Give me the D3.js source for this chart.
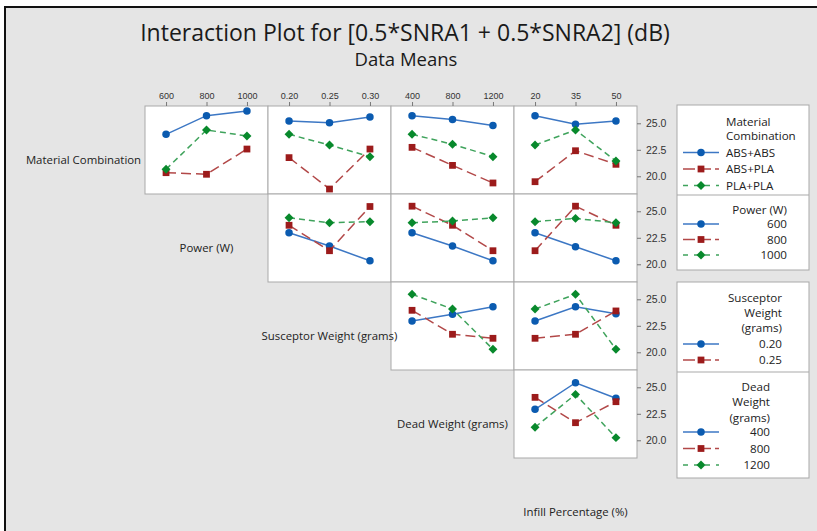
<!DOCTYPE html>
<html>
<head>
<meta charset="utf-8">
<script src="https://cdn.jsdelivr.net/npm/d3@7/dist/d3.min.js"></script>
<style>
  html, body { margin: 0; padding: 0; background: #ffffff; }
  svg { display: block; font-family: "Open Sans", "Noto Sans", sans-serif; }
</style>
</head>
<body>
<svg id="chart" width="817" height="531"></svg>
<script>
// ---- factors ----
const factorNames = ["Material Combination", "Power (W)", "Susceptor Weight (grams)", "Dead Weight (grams)", "Infill Percentage (%)"];
const materialLevels  = ["ABS+ABS", "ABS+PLA", "PLA+PLA"];
const powerLevels     = ["600", "800", "1000"];
const susceptorLevels = ["0.20", "0.25", "0.30"];
const deadLevels      = ["400", "800", "1200"];
const infillLevels    = ["20", "35", "50"];
const factorLevels = [materialLevels, powerLevels, susceptorLevels, deadLevels, infillLevels];

// ---- mean S/N ratio (dB) for each trace level (rows) across x levels (columns) ----
const materialByPower     = [[23.96, 25.72, 26.16], [20.34, 20.19, 22.57], [20.66, 24.37, 23.80]];
const materialBySusceptor = [[25.21, 25.05, 25.59], [21.76, 18.80, 22.57], [23.96, 22.95, 21.85]];
const materialByDead      = [[25.72, 25.35, 24.78], [22.73, 21.03, 19.37], [23.96, 23.02, 21.85]];
const materialByInfill    = [[25.72, 24.90, 25.21], [19.49, 22.41, 21.13], [22.95, 24.37, 21.44]];
const powerBySusceptor    = [[22.98, 21.72, 20.33], [23.68, 21.28, 25.45], [24.39, 23.92, 24.02]];
const powerByDead         = [[22.98, 21.72, 20.33], [25.48, 23.68, 21.28], [23.92, 24.08, 24.39]];
const powerByInfill       = [[22.98, 21.66, 20.33], [21.28, 25.48, 23.68], [24.02, 24.33, 23.92]];
const susceptorByDead     = [[22.95, 23.58, 24.30], [23.96, 21.70, 21.32], [25.47, 24.08, 20.28]];
const susceptorByInfill   = [[22.95, 24.30, 23.64], [21.32, 21.70, 23.90], [24.08, 25.47, 20.28]];
const deadByInfill        = [[22.92, 25.43, 23.96], [24.05, 21.66, 23.64], [21.23, 24.33, 20.25]];

// panel grid: row = trace factor, column = x factor (index into factorNames)
const panels = [
  { row: 0, xf: 1, values: materialByPower },
  { row: 0, xf: 2, values: materialBySusceptor },
  { row: 0, xf: 3, values: materialByDead },
  { row: 0, xf: 4, values: materialByInfill },
  { row: 1, xf: 2, values: powerBySusceptor },
  { row: 1, xf: 3, values: powerByDead },
  { row: 1, xf: 4, values: powerByInfill },
  { row: 2, xf: 3, values: susceptorByDead },
  { row: 2, xf: 4, values: susceptorByInfill },
  { row: 3, xf: 4, values: deadByInfill }
];

const yTicks = [20.0, 22.5, 25.0];
const yDomain = [18.33, 26.63];

// legends: which trace levels are listed in each legend block
const legendBlocks = [
  { title: ["Material", "Combination"], labels: materialLevels, anchor: "start" },
  { title: ["Power (W)"], labels: powerLevels, anchor: "end" },
  { title: ["Susceptor", "Weight", "(grams)"], labels: susceptorLevels.slice(0, 2), anchor: "end" },
  { title: ["Dead", "Weight", "(grams)"], labels: deadLevels, anchor: "end" }
];

// ---- styling ----
const markerColors = ["#0b5bb0", "#9c1b1b", "#08892c"];
const lineColors   = ["#3c77c4", "#b24848", "#3fa35c"];
const dashes       = [null, "10,5", "6,4"];
const symbols      = [d3.symbolCircle, d3.symbolSquare, d3.symbolSquare];
const symbolSizes  = [44, 46, 40];
const symbolRotate = [0, 0, 45];

const W = 817, H = 531;
const gridLeft = 145, gridTop = 106, cellW = 123, cellH = 88;

const svg = d3.select("#chart");

// page background and frame
svg.append("rect").attr("width", W).attr("height", H).attr("fill", "#ffffff");
svg.append("rect").attr("x", 5).attr("y", 7).attr("width", W - 5).attr("height", H - 7).attr("fill", "#e5e5e5");
svg.append("path").attr("d", `M5,${H} V7 H${W}`).attr("fill", "none").attr("stroke", "#111").attr("stroke-width", 2);

// titles
svg.append("text").attr("x", 405).attr("y", 41).attr("text-anchor", "middle")
  .attr("font-size", 23).attr("fill", "#1a1a1a")
  .text("Interaction Plot for [0.5*SNRA1 + 0.5*SNRA2] (dB)");
svg.append("text").attr("x", 406).attr("y", 66).attr("text-anchor", "middle")
  .attr("font-size", 18.5).attr("fill", "#1a1a1a")
  .text("Data Means");

const yScale = d3.scaleLinear().domain(yDomain).range([cellH, 0]);
const xScales = factorLevels.map((lv, f) =>
  f === 0 ? null : d3.scalePoint().domain(lv).range([0, cellW]).padding(0.52));

// panels
panels.forEach(p => {
  const col = p.xf - 1;
  const g = svg.append("g")
    .attr("transform", `translate(${gridLeft + col * cellW},${gridTop + p.row * cellH})`);
  g.append("rect").attr("width", cellW).attr("height", cellH)
    .attr("fill", "#ffffff").attr("stroke", "#a9a9a9").attr("stroke-width", 1);

  const xs = xScales[p.xf];
  const levels = factorLevels[p.xf];
  const line = d3.line().x((d, i) => xs(levels[i])).y(d => yScale(d));

  p.values.forEach((vals, s) => {
    g.append("path").datum(vals)
      .attr("d", line)
      .attr("fill", "none")
      .attr("stroke", lineColors[s])
      .attr("stroke-width", 1.5)
      .attr("stroke-dasharray", dashes[s]);
    g.selectAll(null).data(vals).join("path")
      .attr("transform", (d, i) => `translate(${xs(levels[i])},${yScale(d)}) rotate(${symbolRotate[s]})`)
      .attr("d", d3.symbol().type(symbols[s]).size(symbolSizes[s]))
      .attr("fill", markerColors[s]);
  });

  // top axis on first row
  if (p.row === 0) {
    const ax = g.append("g").call(d3.axisTop(xs).tickSize(4).tickSizeOuter(0).tickPadding(3));
    ax.select(".domain").remove();
    ax.selectAll("line").attr("stroke", "#777");
    ax.selectAll("text").attr("font-size", 9).attr("fill", "#333").attr("font-family", null);
  }
  // right axis on last column
  if (col === 3) {
    const ay = g.append("g").attr("transform", `translate(${cellW},0)`)
      .call(d3.axisRight(yScale).tickValues(yTicks).tickFormat(d3.format(".1f")).tickSize(4).tickPadding(5));
    ay.select(".domain").remove();
    ay.selectAll("line").attr("stroke", "#777");
    ay.selectAll("text").attr("font-size", 10.5).attr("fill", "#333").attr("font-family", null);
  }
});

// factor labels on the diagonal (drawn over the panels)
factorNames.forEach((name, i) => {
  svg.append("text")
    .attr("x", gridLeft + (i - 1) * cellW + cellW / 2)
    .attr("y", gridTop + i * cellH + cellH / 2 + 14)
    .attr("text-anchor", "middle")
    .attr("font-size", 11.4)
    .attr("fill", "#222")
    .text(name);
});

// legend boxes
const legendX = 677, legendW = 132;
const legendLayout = [
  { top: 105, bottom: 195, titleY: 121.5, titleStep: 14.5, entryY: 152.5, entryStep: 16.5, textX: 726 },
  { top: 195, bottom: 270, titleY: 210, titleStep: 14.5, entryY: 224, entryStep: 15.5, textX: 787 },
  { top: 282, bottom: 372, titleY: 298, titleStep: 15, entryY: 344, entryStep: 16, textX: 782 },
  { top: 372, bottom: 478, titleY: 386.5, titleStep: 15.5, entryY: 432, entryStep: 16.5, textX: 770 }
];
[[0, 1], [2, 3]].forEach(pair => {
  const top = legendLayout[pair[0]].top, bottom = legendLayout[pair[1]].bottom;
  svg.append("rect").attr("x", legendX).attr("y", top).attr("width", legendW).attr("height", bottom - top)
    .attr("fill", "#fff").attr("stroke", "#a9a9a9");
  svg.append("line").attr("x1", legendX).attr("x2", legendX + legendW)
    .attr("y1", legendLayout[pair[1]].top).attr("y2", legendLayout[pair[1]].top).attr("stroke", "#a9a9a9");
});
legendBlocks.forEach((b, k) => {
  const L = legendLayout[k];
  const g = svg.append("g");
  b.title.forEach((t, i) => {
    g.append("text").attr("x", L.textX).attr("y", L.titleY + i * L.titleStep).attr("dy", "0.35em")
      .attr("text-anchor", b.anchor).attr("font-size", 11.6).attr("fill", "#222").text(t);
  });
  b.labels.forEach((lab, s) => {
    const y = L.entryY + s * L.entryStep;
    g.append("line").attr("x1", 683).attr("x2", 719).attr("y1", y).attr("y2", y)
      .attr("stroke", lineColors[s]).attr("stroke-width", 1.6).attr("stroke-dasharray", dashes[s] ? (s === 1 ? "12,4" : "5,6") : null);
    g.append("path").attr("transform", `translate(701,${y}) rotate(${symbolRotate[s]})`)
      .attr("d", d3.symbol().type(symbols[s]).size(symbolSizes[s]))
      .attr("fill", markerColors[s]);
    g.append("text").attr("x", L.textX).attr("y", y).attr("dy", "0.35em")
      .attr("text-anchor", b.anchor).attr("font-size", 11.6).attr("fill", "#222").text(lab);
  });
});
</script>
</body>
</html>
